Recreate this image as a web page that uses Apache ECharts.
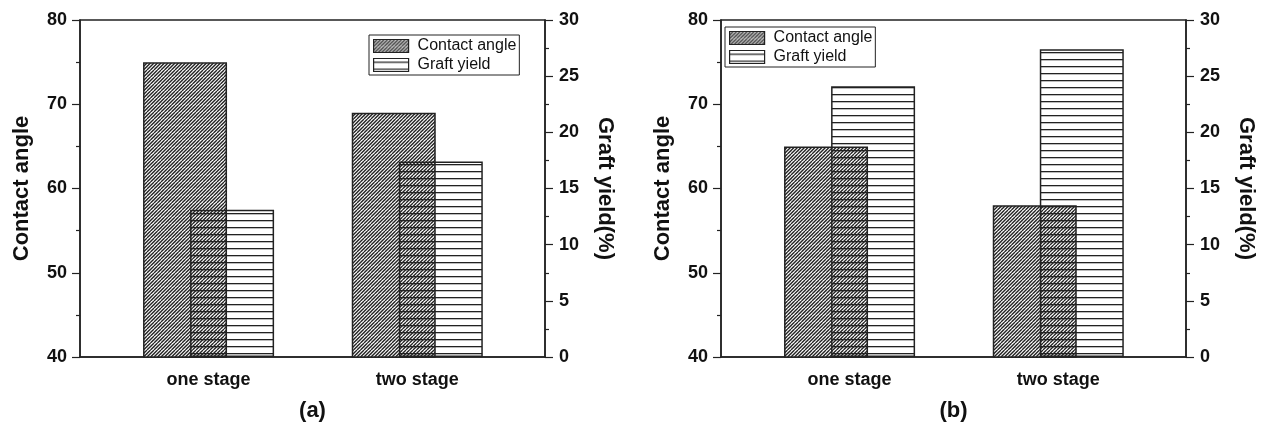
<!DOCTYPE html>
<html>
<head>
<meta charset="utf-8">
<style>
  html, body { margin: 0; padding: 0; background: #fff; }
  #chart { width: 1262px; height: 433px; }
</style>
<script src="https://cdn.jsdelivr.net/npm/echarts@6/dist/echarts.min.js"></script>
</head>
<body>
<div id="chart"></div>
<script>
// ---- data ----
const categories = ['one stage', 'two stage'];
const contactA = [75, 69];
const graftA = [13.1, 17.4];
const contactB = [65, 58];
const graftB = [24.1, 27.4];
const panelNames = ['(a)', '(b)'];
const seriesNames = ['Contact angle', 'Graft yield'];
const leftAxisRange = [40, 80, 10];
const rightAxisRange = [0, 30, 5];

// ---- patterns ----
function hatchPattern() {
  const c = document.createElement('canvas');
  c.width = 7; c.height = 7;
  const g = c.getContext('2d');
  g.fillStyle = '#fff';
  g.fillRect(0, 0, 7, 7);
  g.strokeStyle = '#222';
  g.lineWidth = 1.35;
  for (let x0 = -14; x0 <= 14; x0 += 3.5) {
    g.beginPath();
    g.moveTo(x0, 7);
    g.lineTo(x0 + 7, 0);
    g.stroke();
  }
  return c;
}
function linePattern() {
  const c = document.createElement('canvas');
  c.width = 4; c.height = 7;
  const g = c.getContext('2d');
  g.clearRect(0, 0, 4, 7);
  g.fillStyle = '#222';
  g.fillRect(0, 3, 4, 1.3);
  return c;
}
const hatch = { image: hatchPattern(), repeat: 'repeat' };
const hlines = { image: linePattern(), repeat: 'repeat' };

const FONT = 'Liberation Sans, Arial, Helvetica, sans-serif';
const AX = '#222';

const chart = echarts.init(document.getElementById('chart'), null, { renderer: 'canvas' });

const gridLefts = [80, 721];
const grids = gridLefts.map(l => ({
  left: l, top: 20, width: 465, height: 337,
  show: true, borderColor: AX, borderWidth: 1.5, backgroundColor: 'transparent'
}));

const xAxes = [0, 1].map(i => ({
  type: 'value', gridIndex: i, min: 0.384, max: 2.612,
  name: panelNames[i], nameLocation: 'middle', nameGap: 43,
  nameTextStyle: { fontFamily: FONT, fontWeight: 'bold', fontSize: 22, color: '#111' },
  axisLine: { show: true, lineStyle: { color: AX, width: 1.5 } },
  axisTick: { show: false },
  splitLine: { show: false },
  axisLabel: {
    customValues: [1, 2],
    formatter: v => categories[Math.round(v) - 1] || '',
    fontFamily: FONT, fontWeight: 'bold', fontSize: 18, color: '#111', margin: 14
  }
}));

function leftY(i) {
  return {
    type: 'value', gridIndex: i, position: 'left',
    min: leftAxisRange[0], max: leftAxisRange[1], interval: leftAxisRange[2],
    name: 'Contact angle', nameLocation: 'middle', nameGap: 47,
    nameTextStyle: { fontFamily: FONT, fontWeight: 'bold', fontSize: 22, color: '#111' },
    axisLine: { show: true, lineStyle: { color: AX, width: 1.5 } },
    axisTick: { show: true, length: 8, lineStyle: { color: AX, width: 1.2 } },
    minorTick: { show: true, splitNumber: 2, length: 4, lineStyle: { color: AX, width: 1.2 } },
    splitLine: { show: false },
    axisLabel: { fontFamily: FONT, fontWeight: 'bold', fontSize: 18, color: '#111', margin: 13 }
  };
}
function rightY(i) {
  return {
    type: 'value', gridIndex: i, position: 'right',
    min: rightAxisRange[0], max: rightAxisRange[1], interval: rightAxisRange[2],
    name: 'Graft yield(%)', nameLocation: 'middle', nameGap: 49, nameRotate: -90,
    nameTextStyle: { fontFamily: FONT, fontWeight: 'bold', fontSize: 22, color: '#111' },
    axisLine: { show: true, lineStyle: { color: AX, width: 1.5 } },
    axisTick: { show: true, length: 8, lineStyle: { color: AX, width: 1.2 } },
    minorTick: { show: true, splitNumber: 2, length: 4, lineStyle: { color: AX, width: 1.2 } },
    splitLine: { show: false },
    axisLabel: { fontFamily: FONT, fontWeight: 'bold', fontSize: 18, color: '#111', margin: 14 }
  };
}

const yAxes = [leftY(0), rightY(0), leftY(1), rightY(1)];

function toPts(arr) { return arr.map((v, i) => [i + 1, v]); }

function barSeries(name, xi, yi, data, color) {
  return {
    type: 'bar', name: name, xAxisIndex: xi, yAxisIndex: yi,
    data: toPts(data), barWidth: 84, barGap: '-44%',
    itemStyle: { color: color, borderColor: AX, borderWidth: 1.5 },
    emphasis: { disabled: true }, animation: false
  };
}

const series = [
  barSeries(seriesNames[0], 0, 0, contactA, hatch),
  barSeries(seriesNames[1], 0, 1, graftA, hlines),
  barSeries(seriesNames[0], 1, 2, contactB, hatch),
  barSeries(seriesNames[1], 1, 3, graftB, hlines)
];

function legendAt(left, top) {
  return {
    orient: 'vertical', left: left, top: top,
    data: seriesNames, icon: 'rect', itemWidth: 35, itemHeight: 13, itemGap: 3,
    padding: [3, 3, 2, 4], borderColor: AX, borderWidth: 1, backgroundColor: '#fff',
    selectedMode: false,
    textStyle: { fontFamily: FONT, fontSize: 16, color: '#111', padding: [0, 0, 0, 4] },
    itemStyle: { borderColor: AX, borderWidth: 1.2 }
  };
}

chart.setOption({
  animation: false,
  backgroundColor: '#fff',
  grid: grids,
  xAxis: xAxes,
  yAxis: yAxes,
  legend: [legendAt(369, 35), legendAt(725, 27)],
  series: series
});
</script>
</body>
</html>
